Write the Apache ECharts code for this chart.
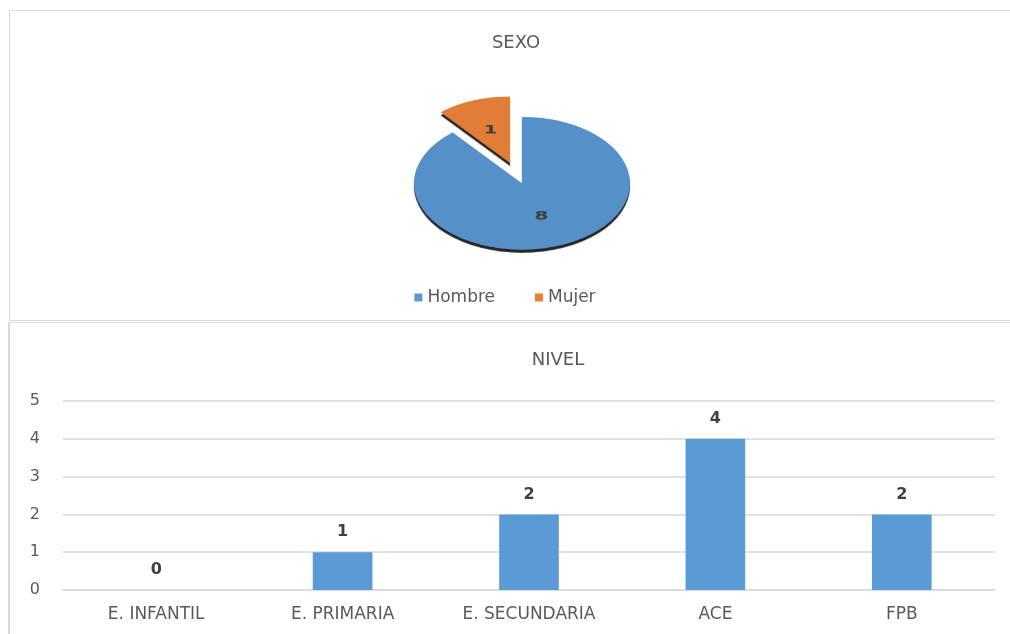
<!DOCTYPE html>
<html>
<head>
<meta charset="utf-8">
<script src="https://cdn.jsdelivr.net/npm/echarts@6/dist/echarts.min.js"></script>
<style>
    body { margin: 0; width: 1010px; height: 634px; overflow: hidden; position: relative; background: #fff; }
    .panel { position: absolute; border: 1px solid #d9d9d9; background: #fff; }
</style>
</head>
<body>
<div class="panel" style="left:9px;top:10px;width:1010px;height:309px"></div>
<div class="panel" style="left:8px;top:322px;width:1010px;height:320px;border-left-width:2px"></div>
<div id="pie" style="position:absolute;left:0;top:0;width:1010px;height:420px;transform:scaleY(0.615);transform-origin:0 0"></div>
<div id="sexo" style="position:absolute;left:0;top:0;width:1010px;height:320px"></div>
<div id="nivel" style="position:absolute;left:0;top:322px;width:1010px;height:312px"></div>
<script>
    // datos
    const sexoNames = ['Hombre', 'Mujer'];
    const sexoValues = [8, 1];
    const nivelCats = ['E. INFANTIL', 'E. PRIMARIA', 'E. SECUNDARIA', 'ACE', 'FPB'];
    const nivelValues = [0, 1, 2, 4, 2];
    const yTicks = { min: 0, max: 5, interval: 1 };

    const FONT = 'DejaVu Sans';
    const TEXT = '#595959';

    const pieData = sexoNames.map((name, i) => ({
        name: name,
        value: sexoValues[i],
        selected: name === 'Mujer'
    }));

    // pie (aplastado con CSS para simular la vista 3D)
    const pieChart = echarts.init(document.getElementById('pie'));
    pieChart.setOption({
        animation: false,
        color: ['#5590c9', '#e17d36'],
        series: [{
            type: 'pie',
            center: [522, 298],
            radius: 108,
            startAngle: 90,
            clockwise: true,
            selectedMode: 'single',
            selectedOffset: 35,
            emphasis: { disabled: true },
            itemStyle: {
                shadowColor: 'rgba(0,0,0,0.85)',
                shadowOffsetY: 5,
                shadowBlur: 1
            },
            label: {
                show: true,
                position: 'inner',
                formatter: '{c}',
                fontFamily: FONT,
                fontWeight: 'bold',
                fontSize: 20,
                color: '#404040'
            },
            labelLine: { show: false },
            data: pieData
        }]
    });

    // titulo y leyenda del grafico SEXO
    const sexoChart = echarts.init(document.getElementById('sexo'));
    sexoChart.setOption({
        animation: false,
        color: ['#5b9bd5', '#ed7d31'],
        title: {
            text: 'SEXO',
            left: 511,
            top: 29,
            textAlign: 'center',
            textStyle: { fontFamily: FONT, fontSize: 18, fontWeight: 'normal', color: TEXT }
        },
        legend: {
            data: sexoNames,
            left: 'center',
            top: 284,
            icon: 'rect',
            itemWidth: 8,
            itemHeight: 8,
            itemGap: 40,
            textStyle: { fontFamily: FONT, fontSize: 17, color: TEXT }
        },
        series: [{
            type: 'pie',
            radius: [0, 0],
            silent: true,
            label: { show: false },
            labelLine: { show: false },
            data: sexoNames.map((name, i) => ({ name: name, value: sexoValues[i] }))
        }]
    });

    // grafico de barras NIVEL
    const nivelChart = echarts.init(document.getElementById('nivel'));
    nivelChart.setOption({
        animation: false,
        title: {
            text: 'NIVEL',
            left: 553,
            top: 24,
            textAlign: 'center',
            textStyle: { fontFamily: FONT, fontSize: 18, fontWeight: 'normal', color: TEXT }
        },
        grid: { left: 63, right: 15, top: 79, bottom: 44 },
        xAxis: {
            type: 'category',
            data: nivelCats,
            axisLine: { lineStyle: { color: '#d9d9d9', width: 1.5 } },
            axisTick: { show: false },
            axisLabel: { fontFamily: FONT, fontSize: 17, color: TEXT, margin: 16 }
        },
        yAxis: {
            type: 'value',
            min: yTicks.min,
            max: yTicks.max,
            interval: yTicks.interval,
            axisLine: { show: false },
            axisTick: { show: false },
            axisLabel: { fontFamily: FONT, fontSize: 16, color: TEXT, margin: 23 },
            splitLine: { lineStyle: { color: '#d9d9d9', width: 1.5 } }
        },
        series: [{
            type: 'bar',
            data: nivelValues,
            barWidth: '32%',
            itemStyle: { color: '#5b9bd5' },
            label: {
                show: true,
                position: 'top',
                distance: 12,
                fontFamily: FONT,
                fontWeight: 'bold',
                fontSize: 16,
                color: '#404040'
            }
        }]
    });
</script>
</body>
</html>
